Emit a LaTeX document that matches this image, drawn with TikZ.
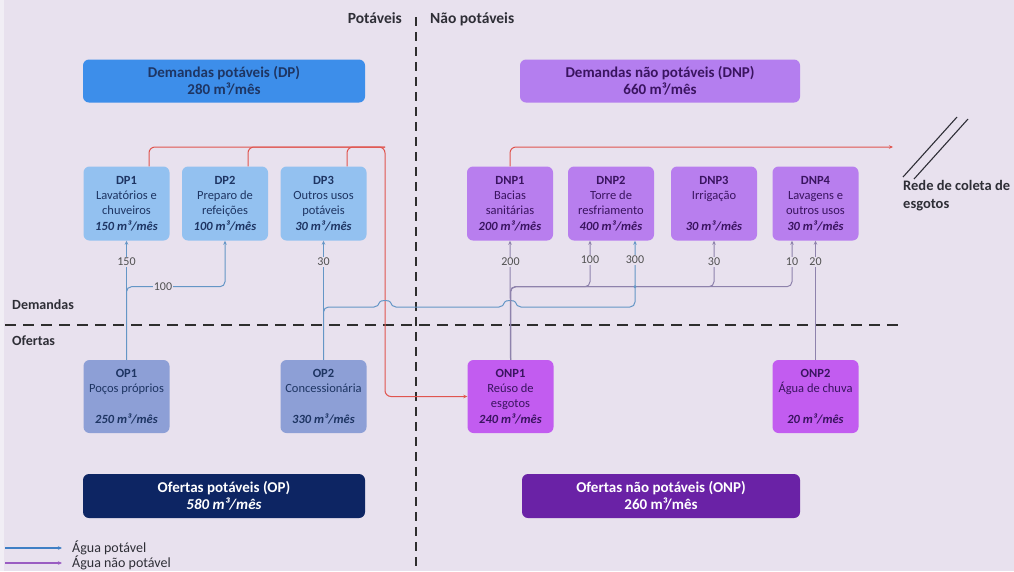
\documentclass[tikz,border=0pt]{standalone}
\usepackage{fontspec}
\setmainfont{Carlito}
\usetikzlibrary{arrows.meta,calc}
\definecolor{bg}{HTML}{E8E1EE}
\definecolor{bgedge}{HTML}{F1EEF5}
\definecolor{dpbig}{HTML}{3D8EEA}
\definecolor{dnpbig}{HTML}{B47EEF}
\definecolor{opbig}{HTML}{0D2563}
\definecolor{onpbig}{HTML}{6A22A6}
\definecolor{dpsmall}{HTML}{93C1F0}
\definecolor{dnpsmall}{HTML}{B87EEE}
\definecolor{opsmall}{HTML}{8D9FD6}
\definecolor{onpsmall}{HTML}{C25CF0}
\definecolor{dptext}{HTML}{1E3563}
\definecolor{dnptext}{HTML}{3A1460}
\definecolor{potline}{HTML}{6496C6}
\definecolor{npotline}{HTML}{8E82AC}
\definecolor{legpotc}{HTML}{3F7FC5}
\definecolor{legnpotc}{HTML}{9A5CC2}
\definecolor{redline}{HTML}{E0554F}
\definecolor{dashc}{HTML}{2E2E2E}
\definecolor{labelgray}{HTML}{505050}
\definecolor{darktext}{HTML}{2E2E36}
\begin{document}
\begin{tikzpicture}[x=1pt,y=-1pt,
  bigbox/.style={rounded corners=6pt, minimum width=282pt, minimum height=43pt, inner sep=0pt, align=center, font=\fontsize{15}{17.5}\selectfont\bfseries},
  smallbox/.style={rounded corners=6pt, minimum width=86pt, minimum height=74pt, inner sep=0pt, align=center, font=\fontsize{12.5}{15.3}\selectfont},
  flowlabel/.style={fill=bg, inner sep=0.8pt, font=\fontsize{12}{12}\selectfont, text=labelgray},
  pot/.style={draw=potline, line width=1pt, -{Stealth[length=4pt,width=3.5pt]}},
  npot/.style={draw=npotline, line width=1pt, -{Stealth[length=4pt,width=3.5pt]}},
  waste/.style={draw=redline, line width=1pt, rounded corners=6pt},
  sep/.style={draw=dashc, line width=1.8pt, dash pattern=on 11pt off 7pt},
  side/.style={font=\fontsize{14}{17}\selectfont\bfseries, text=darktext, inner sep=0pt},
  legtext/.style={font=\fontsize{14}{15}\selectfont, text=darktext, inner sep=0pt, anchor=west}
]
\useasboundingbox (0,0) rectangle (1014,571);
\fill[bg] (0,0) rectangle (1014,571);
\fill[bgedge] (0,0) rectangle (4,571);

% separators
\draw[sep, line width=1.6pt, dash pattern=on 9pt off 6pt] (416,17) -- (416,571);
\draw[sep] (5,325) -- (900,325);
\node[side, anchor=base east, font=\fontsize{15.5}{17}\selectfont\bfseries] (hpot) at (402,23) {Potáveis};
\node[side, anchor=base west, font=\fontsize{15.5}{17}\selectfont\bfseries] (hnpot) at (430,23) {Não potáveis};
\node[side, anchor=west] (lbldem) at (12,305) {Demandas};
\node[side, anchor=west] (lblofe) at (12,341) {Ofertas};

% big boxes
\node[bigbox, fill=dpbig, text=dptext] (DP) at (224,81) {Demandas potáveis (DP)\\280 m³/mês};
\node[bigbox, fill=dnpbig, text=dnptext, minimum width=280pt] (DNP) at (660,81) {Demandas não potáveis (DNP)\\660 m³/mês};
\node[bigbox, fill=opbig, text=white, minimum height=44pt] (OP) at (224,496) {Ofertas potáveis (OP)\\\textit{580 m³/mês}};
\node[bigbox, fill=onpbig, text=white, minimum width=278pt, minimum height=44pt] (ONP) at (661,496) {Ofertas não potáveis (ONP)\\260 m³/mês};

% demand boxes
\node[smallbox, fill=dpsmall, text=dptext] (DP1) at (126.5,203.5) {\textbf{DP1}\\Lavatórios e\\chuveiros\\\textbf{\textit{150 m³/mês}}};
\node[smallbox, fill=dpsmall, text=dptext] (DP2) at (225,203.5) {\textbf{DP2}\\Preparo de\\refeições\\\textbf{\textit{100 m³/mês}}};
\node[smallbox, fill=dpsmall, text=dptext] (DP3) at (323.5,203.5) {\textbf{DP3}\\Outros usos\\potáveis\\\textbf{\textit{30 m³/mês}}};
\node[smallbox, fill=dnpsmall, text=dnptext] (DNP1) at (510,203.5) {\textbf{DNP1}\\Bacias\\sanitárias\\\textbf{\textit{200 m³/mês}}};
\node[smallbox, fill=dnpsmall, text=dnptext] (DNP2) at (611,203.5) {\textbf{DNP2}\\Torre de\\resfriamento\\\textbf{\textit{400 m³/mês}}};
\node[smallbox, fill=dnpsmall, text=dnptext] (DNP3) at (714,203.5) {\textbf{DNP3}\\Irrigação\\\strut\\\textbf{\textit{30 m³/mês}}};
\node[smallbox, fill=dnpsmall, text=dnptext] (DNP4) at (815.5,203.5) {\textbf{DNP4}\\Lavagens e\\outros usos\\\textbf{\textit{30 m³/mês}}};

% offer boxes
\node[smallbox, fill=opsmall, text=dptext, minimum height=73pt] (OP1) at (126.5,396.5) {\textbf{OP1}\\Poços próprios\\\strut\\\textbf{\textit{250 m³/mês}}};
\node[smallbox, fill=opsmall, text=dptext, minimum height=73pt] (OP2) at (323.5,396.5) {\textbf{OP2}\\Concessionária\\\strut\\\textbf{\textit{330 m³/mês}}};
\node[smallbox, fill=onpsmall, text=dnptext, minimum height=73pt] (ONP1) at (510.5,396.5) {\textbf{ONP1}\\Reúso de\\esgotos\\\textbf{\textit{240 m³/mês}}};
\node[smallbox, fill=onpsmall, text=dnptext, minimum height=73pt] (ONP2) at (815.5,396.5) {\textbf{ONP2}\\Água de chuva\\\strut\\\textbf{\textit{20 m³/mês}}};

% helper coordinates
\coordinate (DP1r) at ($(DP1.north)+(22.5,0)$);
\coordinate (DP2r) at ($(DP2.north)+(23,0)$);
\coordinate (DP3r) at ($(DP3.north)+(23.5,0)$);
\coordinate (DNP2a) at ($(DNP2.south)+(-21,0)$);
\coordinate (DNP2b) at ($(DNP2.south)+(24,0)$);
\coordinate (DNP4a) at ($(DNP4.south)+(-23.5,0)$);
\coordinate (sewer) at (893,147);

% wastewater (red)
\draw[waste] (DP2r) |- (385,147);
\draw[waste] (DP3r) |- (385,147);
\draw[waste, -{Stealth[length=4pt,width=3.5pt]}] (DP1r) |- (385,147) |- (ONP1.west);
\draw[waste, -{Stealth[length=4pt,width=3.5pt]}] (DNP1.north) |- (sewer);

% potable (blue)
\draw[pot] (OP1.north) -- (DP1.south);
\draw[pot, rounded corners=5pt] (OP1.north) |- ($(DP2.south)+(0,46)$) -- (DP2.south);
\draw[pot] (OP2.north) -- (DP3.south);
\draw[pot, rounded corners=5pt] (OP2.north) |- (379,307) .. controls (380,300) and (390,300) .. (391,307) -- (504,307) .. controls (505,300) and (515,300) .. (516,307) -| (DNP2b);

% non potable (purple)
\draw[npot] (ONP1.north) -- (DNP1.south);
\draw[npot, rounded corners=5pt] (ONP1.north) |- ($(DNP2a)+(0,46)$) -- (DNP2a);
\draw[npot, rounded corners=5pt] (ONP1.north) |- ($(DNP3.south)+(0,46)$) -- (DNP3.south);
\draw[npot, rounded corners=5pt] (ONP1.north) |- ($(DNP4a)+(0,46)$) -- (DNP4a);
\draw[npot] (ONP2.north) -- (DNP4.south);
\fill[potline] ($(DNP2b)+(0,46)$) circle[radius=1.6pt];

% flow labels
\node[flowlabel] (f150) at (126.5,262) {150};
\node[flowlabel] (f100a) at (163,287) {100};
\node[flowlabel] (f30a) at (323.5,262) {30};
\node[flowlabel] (f200) at (510.5,262) {200};
\node[flowlabel] (f100b) at (590,260) {100};
\node[flowlabel] (f300) at (635,260) {300};
\node[flowlabel] (f30b) at (714,262) {30};
\node[flowlabel] (f10) at (792,262) {10};
\node[flowlabel] (f20) at (815.5,262) {20};

% sewer network
\draw[line width=1.1pt, draw=darktext] (903,177) -- (957,117);
\draw[line width=1.1pt, draw=darktext] (914,179) -- (968,119);
\node[side, anchor=west, align=left, font=\fontsize{14.5}{18}\selectfont\bfseries] (rede) at (903,196) {Rede de coleta de\\esgotos};

% legend
\coordinate (l1s) at (5,548);
\coordinate (l1e) at (62,548);
\coordinate (l2s) at (5,563);
\coordinate (l2e) at (62,563);
\draw[draw=legpotc, line width=1.1pt, -{Stealth[length=4pt,width=3.5pt]}] (l1s) -- (l1e);
\draw[draw=legnpotc, line width=1.1pt, -{Stealth[length=4pt,width=3.5pt]}] (l2s) -- (l2e);
\node[legtext] (lg1) at (72,548) {Água potável};
\node[legtext] (lg2) at (72,563) {Água não potável};
\end{tikzpicture}
\end{document}
